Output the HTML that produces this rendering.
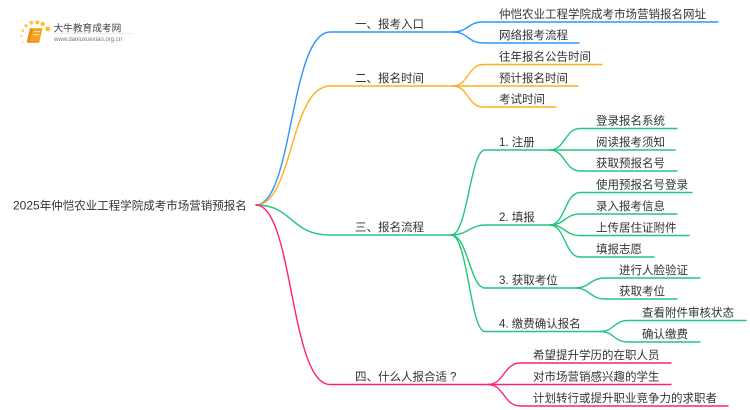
<!DOCTYPE html>
<html lang="zh">
<head>
<meta charset="utf-8">
<style>
html,body{margin:0;padding:0;background:#fff;width:750px;height:410px;overflow:hidden}
svg{display:block}
text{font-family:"Liberation Sans","Noto Sans CJK SC",sans-serif;font-size:11.5px;fill:#333}
path{fill:none;stroke-width:1.4;stroke-linecap:round}
.b path{stroke:#2f95fb}
.o path{stroke:#ffb020}
.g path{stroke:#20c67e}
.p path{stroke:#ff1f7f}
</style>
</head>
<body>
<svg width="750" height="410" viewBox="0 0 750 410" xmlns="http://www.w3.org/2000/svg">
<!-- logo -->
<g>
<circle cx="47.700" cy="29" r="2.500" fill="#fbc02d"/>
<circle cx="42.700" cy="24" r="2.200" fill="#fbbf30"/>
<circle cx="37.300" cy="22.300" r="2.100" fill="#fbbf30"/>
<circle cx="31.300" cy="22.700" r="2" fill="#fbc44a"/>
<circle cx="26" cy="25.700" r="1.700" fill="#fbcb60"/>
<circle cx="22.700" cy="30.700" r="1.400" fill="#fcd070"/>
<circle cx="21.300" cy="36" r="1.200" fill="#fcd98a"/>
<circle cx="23.300" cy="42.300" r="1" fill="#fcdf9c"/>
<polygon points="30,28.300 42.500,28.300 39.500,41 27,41.500" fill="#f7a01a"/>
<polygon points="27,41.500 39.500,41 39,42.500 27.500,42.700" fill="#e8760c"/>
<polygon points="30,28.300 33,28.300 29.500,41.300 27,41.500" fill="#f08a10"/>
<rect x="33.500" y="31" width="6.500" height="1.200" fill="#ffe2a6"/>
<rect x="32.800" y="34" width="6.500" height="1.200" fill="#ffe2a6"/>
<text x="53.500" y="31.500" style="font-size:9.700px;fill:#444">大牛教育成考网</text>
<rect x="54" y="33" width="78" height="0.700" fill="#e4e4e4"/>
<text x="54" y="41" style="font-size:6px;fill:#777">www.daniuxuexiao.org.cn</text>
</g>

<text x="13" y="209.500"><tspan style="font-size:12px">2025</tspan>年仲恺农业工程学院成考市场营销预报名</text>

<!-- blue -->
<g class="b">
<path d="M256 205C293 205 290 32 330 32L453 32"/>
<path d="M453 32C468 32 468 22 483 22L718 22"/>
<path d="M453 32C468 32 468 43 483 43L579 43"/>
</g>
<text x="355" y="28">一、报考入口</text>
<text x="499" y="18">仲恺农业工程学院成考市场营销报名网址</text>
<text x="499" y="39">网络报考流程</text>

<!-- orange -->
<g class="o">
<path d="M256 205C293 205 290 86 330 86L453 86"/>
<path d="M453 86C468 86 468 64.500 483 64.500L602 64.500"/>
<path d="M453 86L578 86"/>
<path d="M453 86C468 86 468 107 483 107L556 107"/>
</g>
<text x="355" y="82">二、报名时间</text>
<text x="499" y="60.500">往年报名公告时间</text>
<text x="499" y="82">预计报名时间</text>
<text x="499" y="103">考试时间</text>

<!-- green -->
<g class="g">
<path d="M256 205C293 205 290 235 330 235L451 235"/>
<path d="M451 235C468 235 470 150 485 150L550 150"/>
<path d="M451 235C468 235 470 225 485 225L550 225"/>
<path d="M451 235C468 235 470 288 485 288L575 288"/>
<path d="M451 235C468 235 470 331.500 485 331.500L600 331.500"/>
<path d="M550 150C565 150 565 128.500 580 128.500L677 128.500"/>
<path d="M550 150L675 150"/>
<path d="M550 150C565 150 565 171 580 171L677 171"/>
<path d="M550 225C565 225 565 192.500 580 192.500L692 192.500"/>
<path d="M550 225C565 225 565 214 580 214L677 214"/>
<path d="M550 225C565 225 565 235.500 580 235.500L689 235.500"/>
<path d="M550 225C565 225 565 257 580 257L654 257"/>
<path d="M575 288C590 288 590 278 605 278L700 278"/>
<path d="M575 288C590 288 590 299 605 299L677 299"/>
<path d="M600 331.500C614 331.500 614 320.500 628 320.500L746 320.500"/>
<path d="M600 331.500C614 331.500 614 342 628 342L700 342"/>
</g>
<text x="355" y="231">三、报名流程</text>
<text x="499" y="146">1. 注册</text>
<text x="499" y="221">2. 填报</text>
<text x="499" y="284">3. 获取考位</text>
<text x="499" y="327.500">4. 缴费确认报名</text>
<text x="596" y="124.500">登录报名系统</text>
<text x="596" y="146">阅读报考须知</text>
<text x="596" y="167">获取预报名号</text>
<text x="596" y="188.500">使用预报名号登录</text>
<text x="596" y="210">录入报考信息</text>
<text x="596" y="231.500">上传居住证附件</text>
<text x="596" y="253">填报志愿</text>
<text x="619" y="274">进行人脸验证</text>
<text x="619" y="295">获取考位</text>
<text x="642" y="316.500">查看附件审核状态</text>
<text x="642" y="338">确认缴费</text>

<!-- pink -->
<g class="p">
<path d="M256 205C293 205 290 384.500 330 384.500L488 384.500"/>
<path d="M488 384.500C504 384.500 504 363 520 363L671 363"/>
<path d="M488 384.500L671 384.500"/>
<path d="M488 384.500C504 384.500 504 406 520 406L728 406"/>
</g>
<text x="355" y="380.500">四、什么人报合适</text>
<text x="450" y="380.500">?</text>
<text x="533" y="359">希望提升学历的在职人员</text>
<text x="533" y="380.500">对市场营销感兴趣的学生</text>
<text x="533" y="402">计划转行或提升职业竞争力的求职者</text>
</svg>
</body>
</html>
